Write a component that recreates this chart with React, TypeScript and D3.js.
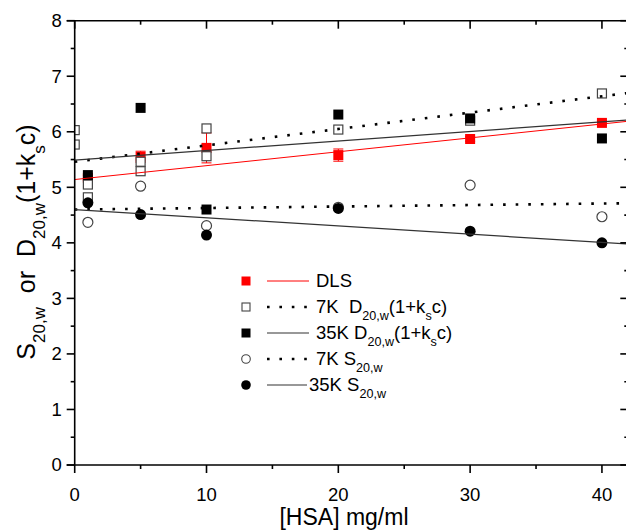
import React from 'react';
import * as d3 from 'd3';

// ---- data ----
const dlsX = [1, 5, 10, 20, 30, 40];
const dlsY = [5.17, 5.55, 5.71, 5.58, 5.87, 6.16];
const dlsErr = [0.05, 0.1, 0.27, 0.11, 0.04, 0.04];

const k7DX = [0, 0, 1, 1, 5, 5, 10, 10, 20, 30, 40];
const k7DY = [6.03, 5.77, 5.05, 4.82, 5.46, 5.29, 6.06, 5.56, 6.04, 6.2, 6.69];

const k35DX = [1, 5, 10, 20, 30, 40];
const k35DY = [5.22, 6.43, 4.6, 6.31, 6.24, 5.88];

const k7SX = [1, 5, 10, 20, 30, 40];
const k7SY = [4.37, 5.02, 4.31, 4.64, 5.04, 4.47];

const k35SX = [1, 5, 10, 20, 30, 40];
const k35SY = [4.72, 4.51, 4.14, 4.62, 4.21, 4.0];

// linear fits: [intercept, slope]
const fitDLS = [5.14, 0.025];
const fit7KD = [5.46, 0.0295];
const fit35KD = [5.49, 0.0172];
const fit7KS = [4.6, 0.0027];
const fit35KS = [4.6, -0.0148];

const xTicks = [0, 10, 20, 30, 40];
const xMinor = [5, 15, 25, 35];
const yTicks = [0, 1, 2, 3, 4, 5, 6, 7, 8];
const yMinor = [0.5, 1.5, 2.5, 3.5, 4.5, 5.5, 6.5, 7.5];

const W = 626;
const H = 530;
const L = 74.7, R = 628.3, T = 20.7, B = 465;
const FONT = 'Liberation Sans, Arial, Helvetica, sans-serif';

export default function App() {
  const x = d3.scaleLinear().domain([0, 42]).range([L, R]);
  const y = d3.scaleLinear().domain([0, 8]).range([B, T]);
  const line = d3.line<number>().x((d) => x(d[0])).y((d) => y(d[1]));
  const fitPath = (f: number[]) =>
    line([[0, f[0]], [42, f[0] + 42 * f[1]]] as any) as string;

  const SQ = 10;
  const dotted = { stroke: '#000', strokeWidth: 2.6, strokeDasharray: '2.6 10' };
  const solid = { stroke: '#333', strokeWidth: 1.2 };

  const sub = (t: string) => (
    <tspan baselineShift="sub" fontSize="0.68em">{t}</tspan>
  );

  const lx = 246, l0 = 281, ls = 26;

  return (
    <div style={{ position: 'absolute', left: 0, top: 0 }}>
      <svg width={W} height={H} style={{ display: 'block', background: '#fff' }}>
        <defs>
          <clipPath id="plot">
            <rect x={L} y={T} width={R - L} height={B - T} />
          </clipPath>
        </defs>
        <rect x={0} y={0} width={W} height={H} fill="#fff" />

        <g clipPath="url(#plot)">
          {/* DLS */}
          {dlsX.map((d, i) => (
            <g key={'de' + i} stroke="#ff0000" strokeWidth={1}>
              <line x1={x(d)} x2={x(d)} y1={y(dlsY[i] - dlsErr[i])} y2={y(dlsY[i] + dlsErr[i])} />
              <line x1={x(d) - 5} x2={x(d) + 5} y1={y(dlsY[i] - dlsErr[i])} y2={y(dlsY[i] - dlsErr[i])} />
              <line x1={x(d) - 5} x2={x(d) + 5} y1={y(dlsY[i] + dlsErr[i])} y2={y(dlsY[i] + dlsErr[i])} />
            </g>
          ))}
          {dlsX.map((d, i) => (
            <rect key={'d' + i} x={x(d) - SQ / 2} y={y(dlsY[i]) - SQ / 2} width={SQ} height={SQ} fill="#ff0000" />
          ))}
          {k7DX.map((d, i) => (
            <rect key={'a' + i} x={x(d) - SQ / 2 + 0.5} y={y(k7DY[i]) - SQ / 2 + 0.5} width={SQ - 1} height={SQ - 1} fill="#fff" stroke="#444" strokeWidth={1.2} />
          ))}
          {k35DX.map((d, i) => (
            <rect key={'b' + i} x={x(d) - SQ / 2} y={y(k35DY[i]) - SQ / 2} width={SQ} height={SQ} fill="#000" />
          ))}
          {k7SX.map((d, i) => (
            <circle key={'c' + i} cx={x(d)} cy={y(k7SY[i])} r={5} fill="#fff" stroke="#444" strokeWidth={1.2} />
          ))}
          {k35SX.map((d, i) => (
            <circle key={'e' + i} cx={x(d)} cy={y(k35SY[i])} r={5.5} fill="#000" />
          ))}

          {/* fit lines */}
          <path d={fitPath(fitDLS)} fill="none" stroke="#ff0000" strokeWidth={1} />
          <path d={fitPath(fit7KD)} fill="none" {...dotted} />
          <path d={fitPath(fit35KD)} fill="none" {...solid} />
          <path d={fitPath(fit7KS)} fill="none" {...dotted} />
          <path d={fitPath(fit35KS)} fill="none" {...solid} />
        </g>

        {/* axes frame */}
        <g stroke="#000" strokeWidth={1.6} fill="none">
          <line x1={L} x2={L} y1={T - 0.8} y2={B} />
          <line x1={L - 8} x2={R} y1={B} y2={B} />
          <line x1={L - 8} x2={R} y1={T} y2={T} />
          <line x1={R} x2={R} y1={T} y2={B} />
          {yTicks.map((t) => <line key={'yl' + t} x1={L - 8} x2={L} y1={y(t)} y2={y(t)} />)}
          {yMinor.map((t) => <line key={'ylm' + t} x1={L - 4} x2={L} y1={y(t)} y2={y(t)} />)}
          {yTicks.map((t) => <line key={'yr' + t} x1={R - 8} x2={R} y1={y(t)} y2={y(t)} />)}
          {yMinor.map((t) => <line key={'yrm' + t} x1={R - 4} x2={R} y1={y(t)} y2={y(t)} />)}
          {xTicks.map((t) => <line key={'xb' + t} x1={x(t)} x2={x(t)} y1={B} y2={B + 8} />)}
          {xMinor.map((t) => <line key={'xbm' + t} x1={x(t)} x2={x(t)} y1={B} y2={B + 4} />)}
          {xTicks.map((t) => <line key={'xt' + t} x1={x(t)} x2={x(t)} y1={T} y2={T + 8} />)}
          {xMinor.map((t) => <line key={'xtm' + t} x1={x(t)} x2={x(t)} y1={T} y2={T + 4} />)}
        </g>

        {/* tick labels */}
        <g fontFamily={FONT} fontSize={18.5} fill="#000">
          {yTicks.map((t) => (
            <text key={'yt' + t} x={L - 13} y={y(t)} dy="0.35em" textAnchor="end">{t}</text>
          ))}
          {xTicks.map((t) => (
            <text key={'xt' + t} x={x(t)} y={B + 36} textAnchor="middle">{t}</text>
          ))}
        </g>

        {/* axis titles */}
        <text x={344} y={525} textAnchor="middle" fontFamily={FONT} fontSize={23}>[HSA] mg/ml</text>
        <text transform={`translate(35,242) rotate(-90)`} textAnchor="middle" fontFamily={FONT} fontSize={25} xmlSpace="preserve">
          S{sub('20,w')}{'  or  '}D{sub('20,w')}(1+k{sub('s')}c)
        </text>

        {/* legend */}
        <g fontFamily={FONT} fontSize={18.5}>
          <rect x={lx - 4.5} y={l0 - 4.5} width={9} height={9} fill="#ff0000" />
          <line x1={267} x2={309} y1={l0} y2={l0} stroke="#ff0000" strokeWidth={1} />
          <text x={316} y={l0} dy="0.35em">DLS</text>

          <rect x={lx - 4} y={l0 + ls - 4} width={8} height={8} fill="#fff" stroke="#444" strokeWidth={1.1} />
          <line x1={267} x2={309} y1={l0 + ls} y2={l0 + ls} stroke="#000" strokeWidth={2.6} strokeDasharray="2.6 9.8" />
          <text x={316} y={l0 + ls} dy="0.35em" xmlSpace="preserve">7K  D{sub('20,w')}(1+k{sub('s')}c)</text>

          <rect x={lx - 4.5} y={l0 + 2 * ls - 4.5} width={9} height={9} fill="#000" />
          <line x1={267} x2={309} y1={l0 + 2 * ls} y2={l0 + 2 * ls} stroke="#333" strokeWidth={1.2} />
          <text x={316} y={l0 + 2 * ls} dy="0.35em">35K D{sub('20,w')}(1+k{sub('s')}c)</text>

          <circle cx={lx} cy={l0 + 3 * ls} r={4.3} fill="#fff" stroke="#444" strokeWidth={1.1} />
          <line x1={267} x2={309} y1={l0 + 3 * ls} y2={l0 + 3 * ls} stroke="#000" strokeWidth={2.6} strokeDasharray="2.6 9.8" />
          <text x={316} y={l0 + 3 * ls} dy="0.35em">7K S{sub('20,w')}</text>

          <circle cx={lx} cy={l0 + 4 * ls} r={4.8} fill="#000" />
          <line x1={267} x2={307} y1={l0 + 4 * ls} y2={l0 + 4 * ls} stroke="#333" strokeWidth={1.2} />
          <text x={309} y={l0 + 4 * ls} dy="0.35em">35K S{sub('20,w')}</text>
        </g>
      </svg>
    </div>
  );
}
